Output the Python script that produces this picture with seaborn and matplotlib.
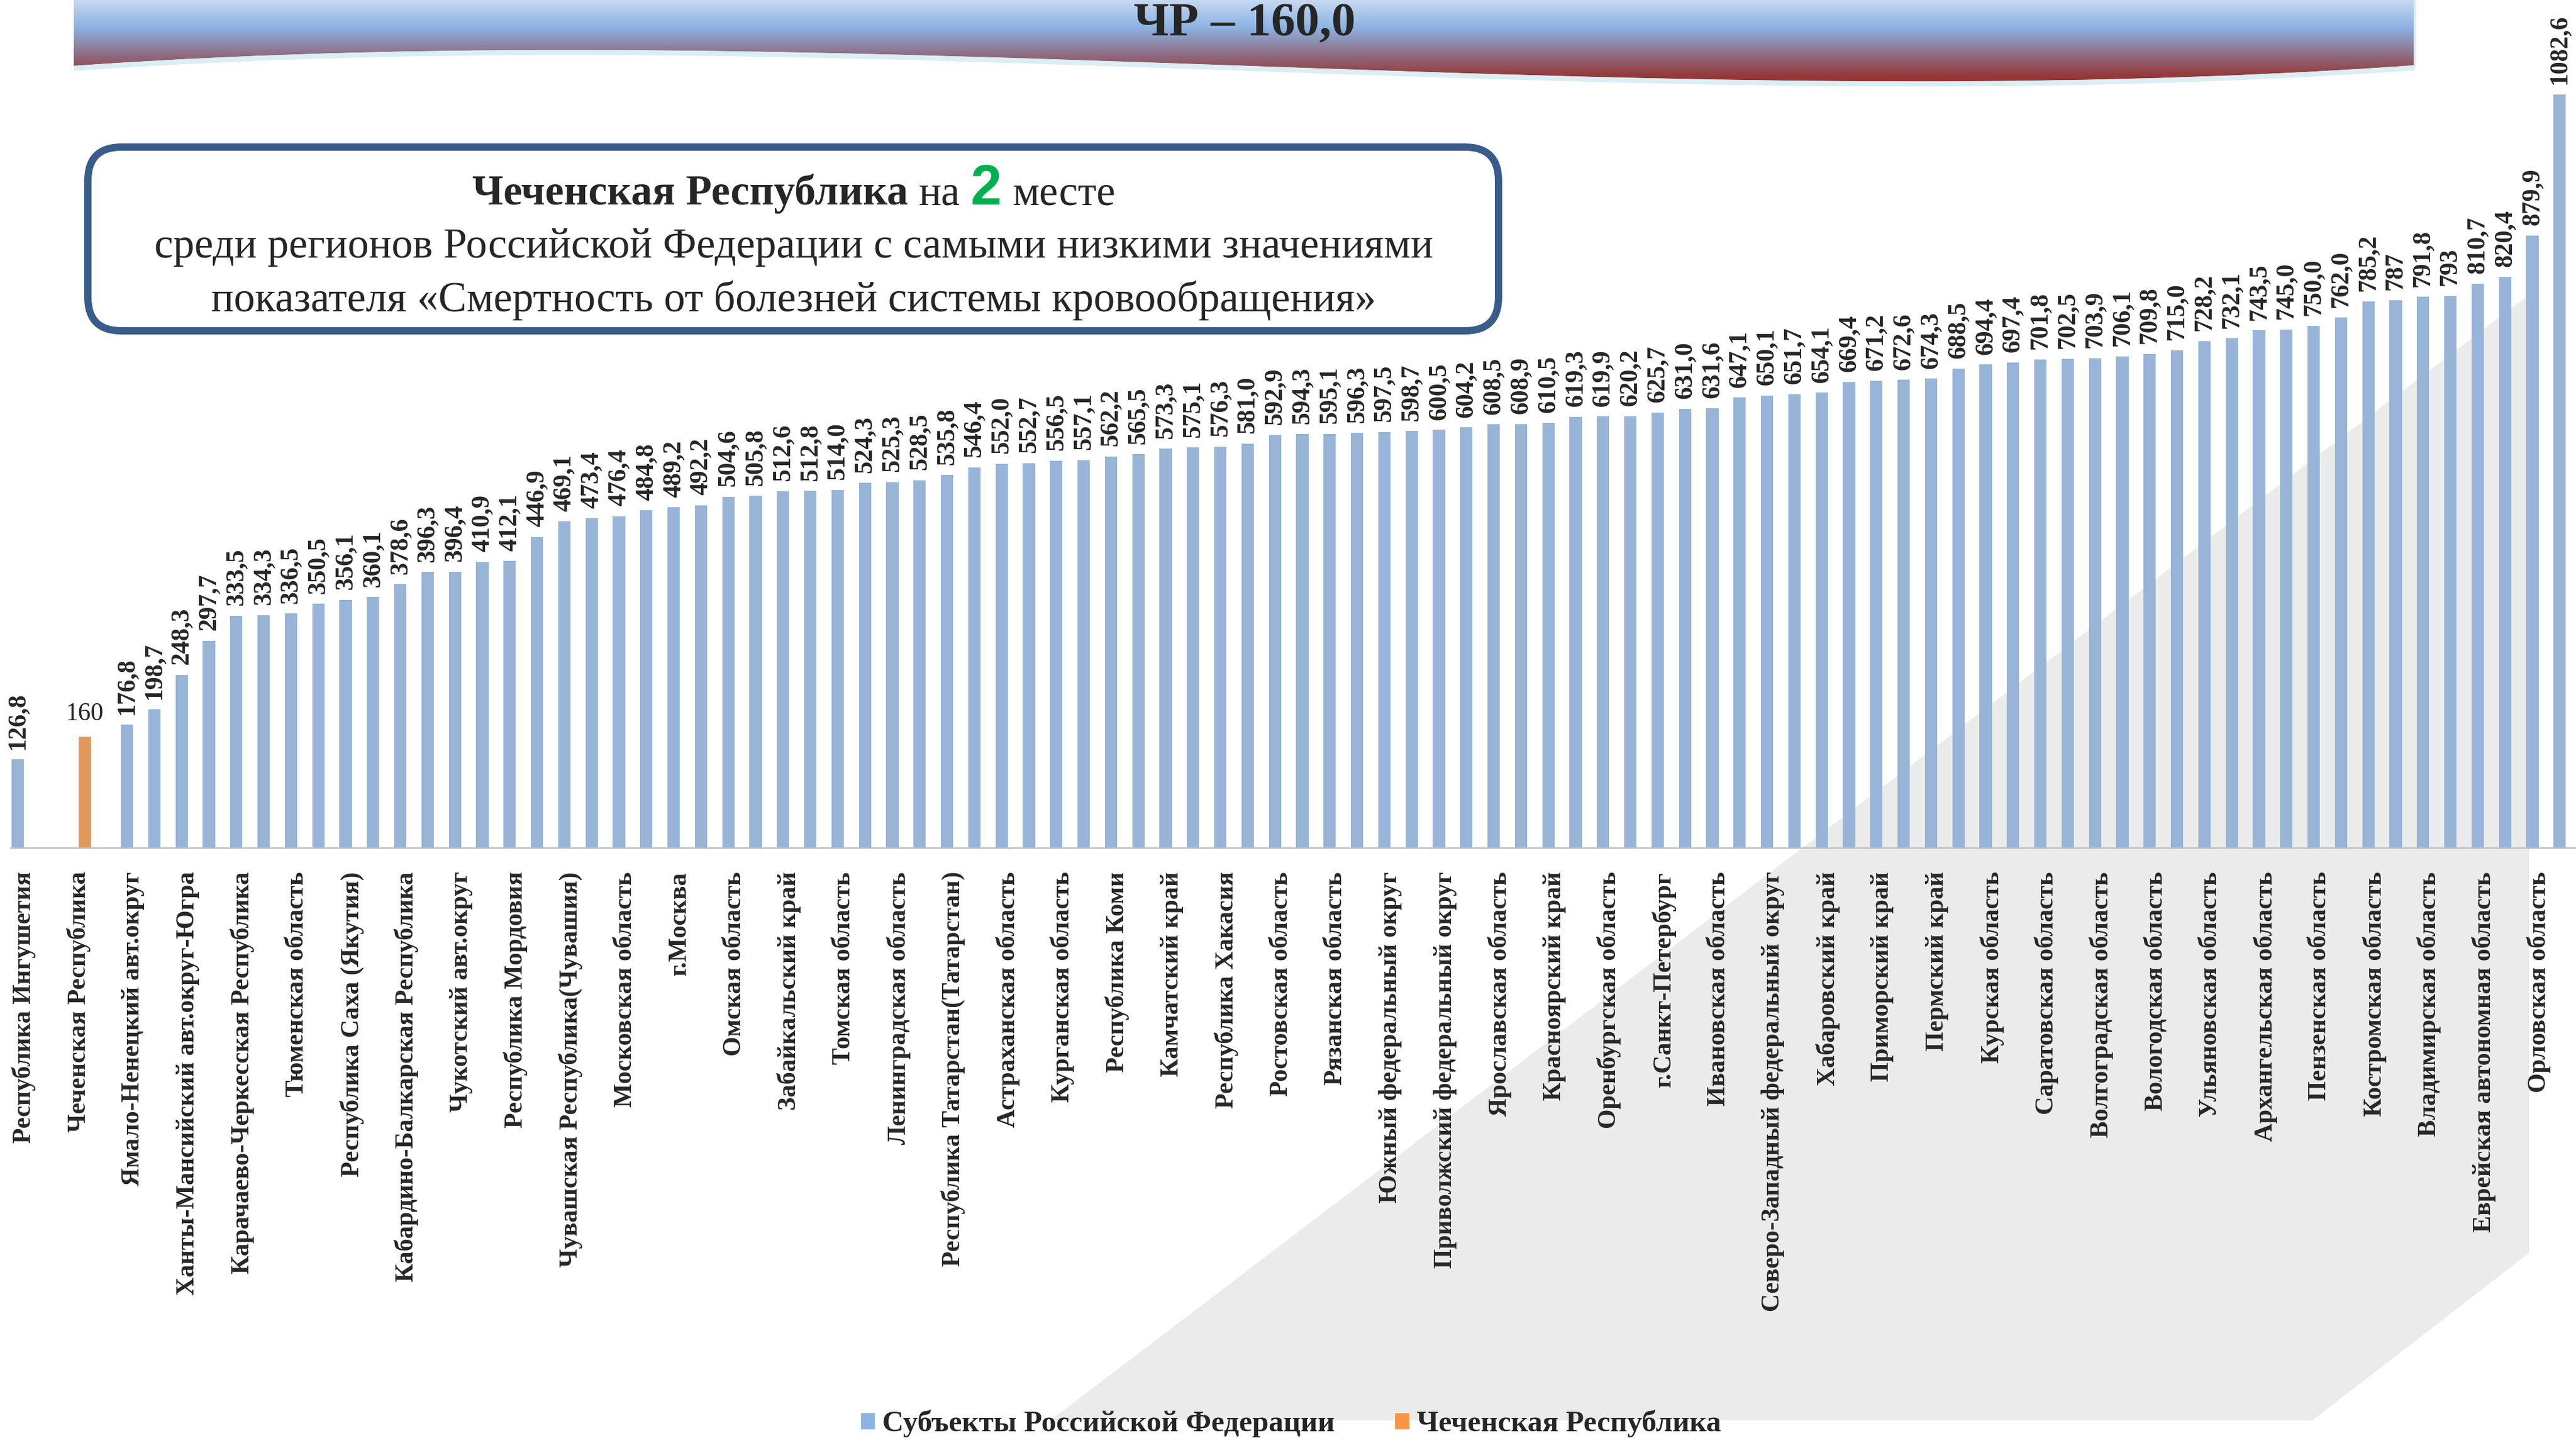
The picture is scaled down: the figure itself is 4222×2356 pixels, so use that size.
import numpy as np
import pandas as pd
import matplotlib
matplotlib.use("Agg")
import matplotlib.pyplot as plt
import seaborn as sns
from matplotlib.patches import Polygon, FancyBboxPatch, PathPatch, Patch
from matplotlib.path import Path
from matplotlib.colors import LinearSegmentedColormap


# labels are printed under every second slot of the chart
regions = [
    "Республика Ингушетия", "Чеченская Республика", "Ямало-Ненецкий авт.округ",
    "Ханты-Мансийский авт.округ-Югра", "Карачаево-Черкесская Республика",
    "Тюменская область", "Республика Саха (Якутия)", "Кабардино-Балкарская Республика",
    "Чукотский авт.округ", "Республика Мордовия", "Чувашская Республика(Чувашия)",
    "Московская область", "г.Москва", "Омская область", "Забайкальский край",
    "Томская область", "Ленинградская область", "Республика Татарстан(Татарстан)",
    "Астраханская область", "Курганская область", "Республика Коми", "Камчатский край",
    "Республика Хакасия", "Ростовская область", "Рязанская область",
    "Южный федеральный округ", "Приволжский федеральный округ", "Ярославская область",
    "Красноярский край", "Оренбургская область", "г.Санкт-Петербург",
    "Ивановская область", "Северо-Западный федеральный округ", "Хабаровский край",
    "Приморский край", "Пермский край", "Курская область", "Саратовская область",
    "Волгоградская область", "Вологодская область", "Ульяновская область",
    "Архангельская область", "Пензенская область", "Костромская область",
    "Владимирская область", "Еврейская автономная область", "Орловская область",
]

# values exactly as printed above the bars
shown_values = [
    "126,8", "160", "176,8", "198,7", "248,3", "297,7", "333,5", "334,3", "336,5", "350,5",
    "356,1", "360,1", "378,6", "396,3", "396,4", "410,9", "412,1", "446,9", "469,1", "473,4",
    "476,4", "484,8", "489,2", "492,2", "504,6", "505,8", "512,6", "512,8", "514,0", "524,3",
    "525,3", "528,5", "535,8", "546,4", "552,0", "552,7", "556,5", "557,1", "562,2", "565,5",
    "573,3", "575,1", "576,3", "581,0", "592,9", "594,3", "595,1", "596,3", "597,5", "598,7",
    "600,5", "604,2", "608,5", "608,9", "610,5", "619,3", "619,9", "620,2", "625,7", "631,0",
    "631,6", "647,1", "650,1", "651,7", "654,1", "669,4", "671,2", "672,6", "674,3", "688,5",
    "694,4", "697,4", "701,8", "702,5", "703,9", "706,1", "709,8", "715,0", "728,2", "732,1",
    "743,5", "745,0", "750,0", "762,0", "785,2", "787", "791,8", "793", "810,7", "820,4",
    "879,9", "1082,6",
]

empty_slots = [1, 3]
highlight_slot = 2

series_all = "Субъекты Российской Федерации"
series_cr = "Чеченская Республика"
colors = {series_all: "#8DB3E2", series_cr: "#F79646"}

title = "ЧР – 160,0"
box_lines = [
    "среди регионов Российской Федерации с самыми низкими значениями",
    "показателя «Смертность от болезней системы кровообращения»",
]

W, H, DPI = 4222, 2356, 100

n_slots = len(shown_values) + len(empty_slots)
slots = [s for s in range(n_slots) if s not in empty_slots]
df = pd.DataFrame({
    "slot": slots,
    "value": [float(v.replace(",", ".")) for v in shown_values],
    "label": shown_values,
    "series": [series_cr if s == highlight_slot else series_all for s in slots],
})

sns.set_style("white")
plt.rcParams["font.family"] = ["Liberation Serif", "DejaVu Serif"]

fig = plt.figure(figsize=(W / DPI, H / DPI), dpi=DPI)

# grey decorative band behind the chart
bg = fig.add_axes([0, 0, 1, 1], zorder=0)
bg.set_xlim(0, W)
bg.set_ylim(H, 0)
bg.axis("off")
bg.add_patch(Polygon([(1722, 2327), (4145, 483), (4145, 2053), (3790, 2327)],
                     closed=True, facecolor="#EBEBEB", lw=0))

# main bar chart
ax = fig.add_axes([16.6 / W, 967 / H, 4211.2 / W, 1368 / H], zorder=1)
ax.patch.set_alpha(0)
sns.barplot(data=df, x="slot", y="value", hue="series",
            order=list(range(n_slots)), hue_order=[series_all, series_cr],
            palette=colors, dodge=True, width=0.9, errorbar=None,
            linewidth=0, legend=False, ax=ax)

for cont, name in zip(ax.containers, [series_all, series_cr]):
    sub = df[df["series"] == name].sort_values("slot")
    if name == series_all:
        ax.bar_label(cont, labels=list(sub["label"]), rotation=90, padding=12,
                     fontsize=30, fontweight="bold")
    else:
        ax.bar_label(cont, labels=list(sub["label"]), padding=13, fontsize=30)

ax.set_ylim(0, 1200)
ax.set_xlim(-0.5, n_slots - 0.5)
ax.set_xlabel("")
ax.set_ylabel("")
ax.set_yticks([])
ax.set_xticks(range(0, n_slots, 2))
ax.set_xticklabels(regions, rotation=90, fontsize=30, fontweight="bold",
                   ha="center", va="top")
ax.tick_params(axis="x", length=0, pad=28)
for side in ["left", "top", "right"]:
    ax.spines[side].set_visible(False)
ax.spines["bottom"].set_color("#BFBFBF")
ax.spines["bottom"].set_linewidth(1.8)

# overlay: banner and text box
ov = fig.add_axes([0, 0, 1, 1], zorder=3)
ov.patch.set_alpha(0)

wave = [(121, 108), (1400, 18), (2679, 198), (3958, 107)]
banner_path = Path(
    [(121, 0), (3958, 0), wave[3], wave[2], wave[1], wave[0], (121, 0)],
    [Path.MOVETO, Path.LINETO, Path.LINETO, Path.CURVE4, Path.CURVE4, Path.CURVE4,
     Path.CLOSEPOLY])
banner = PathPatch(banner_path, facecolor="none", edgecolor="none")
ov.add_patch(banner)
cmap = LinearSegmentedColormap.from_list(
    "banner", [(0, "#C6D9F1"), (0.32, "#8DB3E2"), (0.58, "#8E7A95"), (0.9, "#953735"), (1, "#953735")])
grad = ov.imshow(np.linspace(0, 1, 256).reshape(-1, 1), cmap=cmap,
                 extent=[121, 3958, 140, 0], aspect="auto", origin="upper", zorder=1)
grad.set_clip_path(banner)
edge = Path([(x, y + 4) for x, y in wave], [Path.MOVETO, Path.CURVE4, Path.CURVE4, Path.CURVE4])
ov.add_patch(PathPatch(edge, facecolor="none", edgecolor="#DAEEF3", lw=6, zorder=2))
ov.plot([3958, 3958], [0, 107], color="#DAEEF3", lw=3, zorder=2)
ov.text(2040, 40, title, ha="center", va="center", fontsize=57, fontweight="bold", zorder=3)

ov.add_patch(FancyBboxPatch((144, 241), 2312, 301,
                            boxstyle="round,pad=0,rounding_size=55",
                            facecolor="white", edgecolor="#385D8A", lw=8.6, zorder=2))

ov.set_xlim(0, W)
ov.set_ylim(H, 0)
ov.axis("off")

renderer = fig.canvas.get_renderer()
box_fs = 50
space = box_fs * DPI / 72 * 0.25
runs = [
    ("Чеченская Республика", dict(fontweight="bold")),
    ("на", dict()),
    ("2", dict(fontweight="bold", color="#00B050", family=["Liberation Sans", "DejaVu Sans"],
               fontsize=66)),
    ("месте", dict()),
]
texts = []
for s, kw in runs:
    opts = dict(fontsize=box_fs, va="baseline", ha="left", zorder=3)
    opts.update(kw)
    texts.append(ov.text(0, 335, s, **opts))
widths = [t.get_window_extent(renderer).width for t in texts]
x = 1301 - (sum(widths) + space * (len(widths) - 1)) / 2
for t, w in zip(texts, widths):
    t.set_x(x)
    x += w + space

for line, yb in zip(box_lines, [422, 510]):
    ov.text(1301, yb, line, fontsize=box_fs, ha="center", va="baseline", zorder=3)

handles = [Patch(facecolor=colors[s], label=s) for s in [series_all, series_cr]]
fig.legend(handles=handles, loc="center", bbox_to_anchor=(0.501, 0.010), ncol=2,
           frameon=False, prop={"weight": "bold", "size": 35}, handlelength=0.5,
           handleheight=0.5, handletextpad=0.25, columnspacing=2.0)

fig.savefig("out.png", dpi=DPI)
